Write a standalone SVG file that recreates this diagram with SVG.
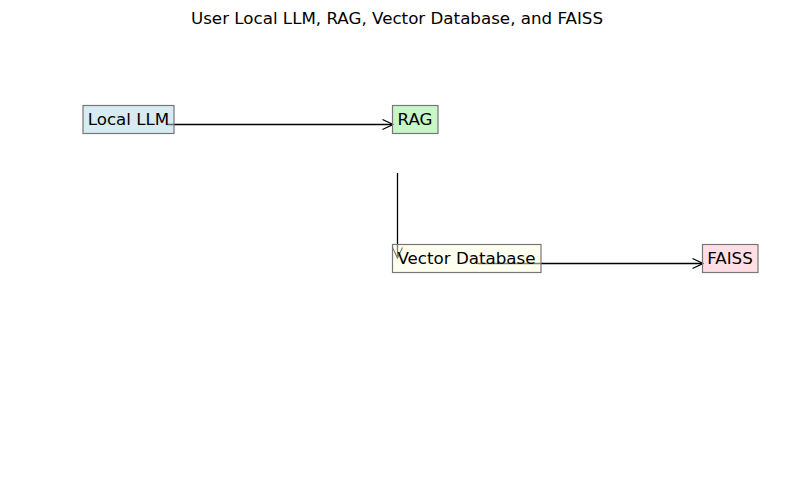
<svg xmlns="http://www.w3.org/2000/svg" width="794" height="504" viewBox="0 0 794 504">
<defs>
<marker id="open" markerWidth="12" markerHeight="12" viewBox="-11 -6 12 12" refX="0" refY="0" orient="auto" markerUnits="userSpaceOnUse">
<path d="M-10.5,-5 L0,0 L-10.5,5" fill="none" stroke="#000" stroke-width="1.2"/>
</marker>
<style>
.lbl{font-family:"DejaVu Sans",sans-serif;font-size:16.7px;fill:#000;text-anchor:middle}
.box{stroke:#777;stroke-width:1.2;fill-opacity:0.5}
.edge{stroke:#000;stroke-width:1.3;fill:none;marker-end:url(#open)}
</style>
</defs>
<rect width="794" height="504" fill="#fff"/>
<text x="397" y="23.5" class="lbl">User Local LLM, RAG, Vector Database, and FAISS</text>
<g id="connectors">
<line class="edge" x1="167" y1="124.5" x2="393" y2="124.5"/>
<line class="edge" x1="397.5" y1="173" x2="397.5" y2="258"/>
<line class="edge" x1="478" y1="263.5" x2="703" y2="263.5"/>
</g>
<g id="local-llm">
<rect class="box" x="83" y="105.5" width="91" height="28" fill="#add8e6"/>
<text class="lbl" x="128.5" y="125">Local LLM</text>
</g>
<g id="rag">
<rect class="box" x="392.5" y="105.5" width="45.5" height="28" fill="#90ee90"/>
<text class="lbl" x="415" y="125">RAG</text>
</g>
<g id="vector-database">
<rect class="box" x="392.5" y="244.5" width="148.5" height="28" fill="#ffffe0"/>
<text class="lbl" x="466.5" y="264">Vector Database</text>
</g>
<g id="faiss">
<rect class="box" x="702.5" y="244.5" width="55.5" height="28" fill="#ffc0cb"/>
<text class="lbl" x="730" y="264">FAISS</text>
</g>
</svg>
